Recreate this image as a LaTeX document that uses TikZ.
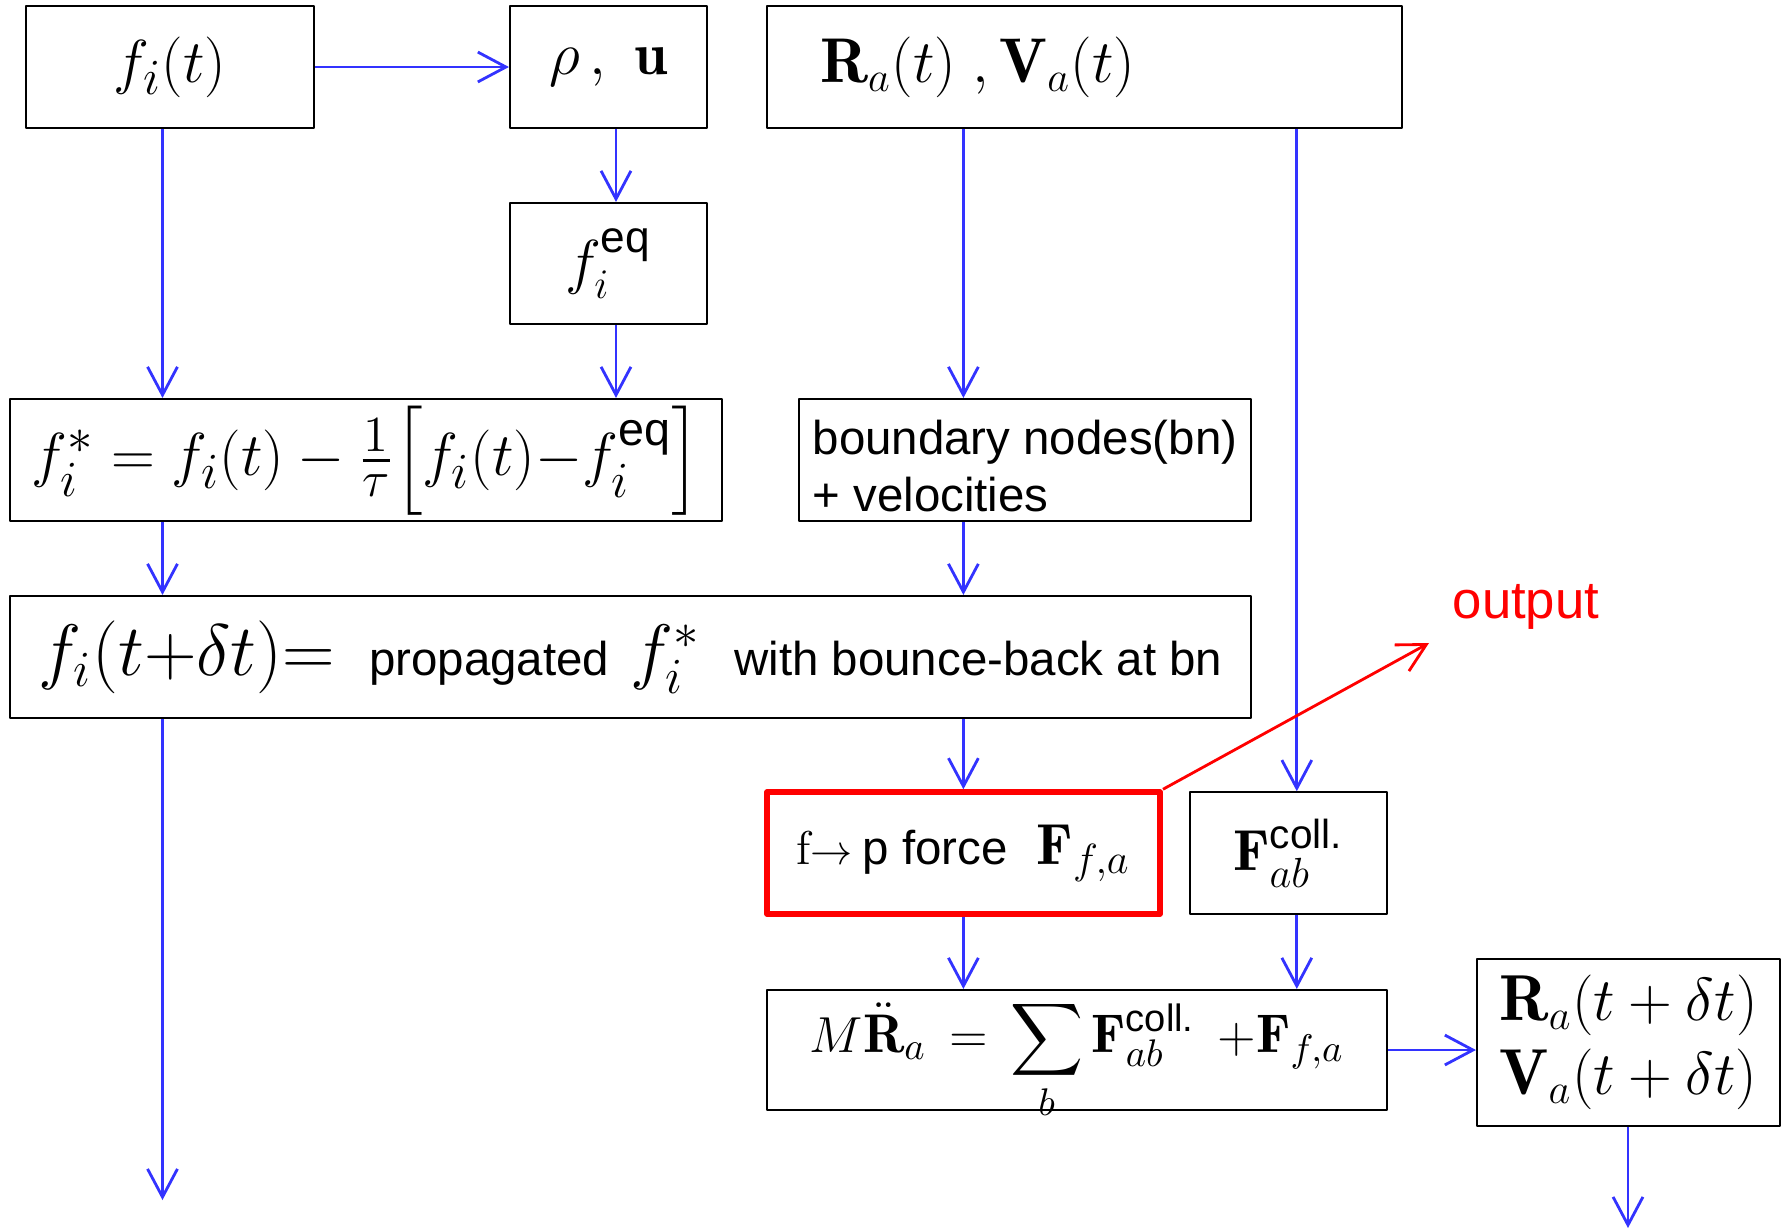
\documentclass[tikz,border=0pt]{standalone}
\usepackage{amsmath}
\usepackage{fontspec}
\setsansfont{Liberation Sans}
\usepackage{tikz}
\usetikzlibrary{arrows.meta,positioning}

\definecolor{flowblue}{RGB}{51,51,255}
\newcommand{\sft}[1]{{\fontsize{13.5}{16.3}\selectfont\sffamily #1}}

\begin{document}
\begin{tikzpicture}[
  font=\fontsize{17}{21}\selectfont,
  line join=round,
  >={Straight Barb[length=8pt,width=8.5pt]},
  sz/.style={font=\fontsize{#1}{21}\selectfont},
  box/.style={
    rectangle,
    draw=black,
    line width=0.6pt,
    minimum height=1.22cm,
    inner sep=2pt,
    align=center
  },
  hotbox/.style={
    box,
    draw=red,
    line width=1.7pt
  },
  arr/.style={
    ->,
    line width=0.8pt,
    draw=flowblue
  },
  outarr/.style={
    arr,
    draw=red
  }
]

\useasboundingbox (0,0) rectangle (17.89,-12.29);

% columns of the vertical connectors
\coordinate (colA) at (1.625,0);
\coordinate (colB) at (6.16,0);
\coordinate (colC) at (9.634,0);
\coordinate (colD) at (12.968,0);
\coordinate (colE) at (16.28,0);

% fluid side
\node[box, sz=19, minimum width=2.88cm] (fi) at (1.70,-0.67) {$f_i(t)$};
\node[box, sz=17, minimum width=1.97cm] (rho) at (6.085,-0.67) {$\rho\,,\ \mathbf{u}$};
\node[box, sz=18, minimum width=1.97cm, minimum height=1.21cm] (feq) at (6.085,-2.635)
  {$f_i^{\text{\sffamily eq}}$};
\node[box, sz=19, minimum width=7.12cm, text height=17pt, text depth=8pt] (fstar) at (3.66,-4.60)
  {$f_i^* = f_i(t) - \tfrac{1}{\tau}\Big[f_i(t){-}f_i^{\text{\sffamily eq}}\Big]$};
\node[box, sz=19.5, minimum width=12.41cm] (prop) at (6.305,-6.57)
  {$f_i(t{+}\delta t){=}$\enspace\sft{propagated} $f_i^*$\enspace\sft{with bounce-back at bn}};

% particle side
\node[box, sz=18, minimum width=6.35cm, text width=5.29cm, inner xsep=0.53cm, align=left] (Rt)
  at (10.845,-0.67) {$\mathbf{R}_a(t)\;,\mathbf{V}_a(t)$};
\node[box, minimum width=4.52cm, align=left, text height=29.4pt, text depth=0pt,
  font=\fontsize{13.5}{16.3}\selectfont\sffamily] (bnd)
  at (10.25,-4.60) {boundary nodes(bn)\\+ velocities};
\node[hotbox, sz=16.5, minimum width=3.93cm, minimum height=1.215cm] (fp) at (9.635,-8.53)
  {\sft{$\mathrm{f}$}${\scriptstyle\rightarrow}$\,\sft{p force}\enspace$\mathbf{F}_{f,a}$};
\node[box, sz=16.5, minimum width=1.97cm, minimum height=1.215cm] (coll) at (12.885,-8.53)
  {$\mathbf{F}_{ab}^{\text{\sffamily coll.}}$};
\node[box, sz=15.5, minimum width=6.20cm, minimum height=1.20cm, inner ysep=0.5pt,
  text height=16.5pt, text depth=15.3pt] (mot) at (10.77,-10.50)
  {$M\ddot{\mathbf{R}}_a \,=\, \displaystyle\sum_b \mathbf{F}_{ab}^{\text{\sffamily coll.}}\;\,{+}\mathbf{F}_{f,a}$};
\node[box, sz=18.5, minimum width=3.03cm, minimum height=1.67cm] (Rdt) at (16.285,-10.425)
  {$\mathbf{R}_a(t+\delta t)$\\$\mathbf{V}_a(t+\delta t)$};

\node[text=red, font=\fontsize{15}{18}\selectfont\sffamily, anchor=base west, inner sep=0pt]
  (outlbl) at (14.52,-6.18) {output};

\coordinate (fout) at (1.625,-12.0);
\coordinate (Rend) at (16.28,-12.28);
\coordinate (outtip) at (14.29,-6.43);

\draw[arr] (fi.east) -- (rho.west);
\draw[arr] (fi.south -| colA) -- (fstar.north -| colA);
\draw[arr] (rho.south -| colB) -- (feq.north -| colB);
\draw[arr] (feq.south -| colB) -- (fstar.north -| colB);
\draw[arr] (Rt.south -| colC) -- (bnd.north -| colC);
\draw[arr] (Rt.south -| colD) -- (coll.north -| colD);
\draw[arr] (fstar.south -| colA) -- (prop.north -| colA);
\draw[arr] (bnd.south -| colC) -- (prop.north -| colC);
\draw[arr] (prop.south -| colA) -- (fout);
\draw[arr] (prop.south -| colC) -- (fp.north -| colC);
\draw[arr] (fp.south -| colC) -- (mot.north -| colC);
\draw[arr] (coll.south -| colD) -- (mot.north -| colD);
\draw[arr] (mot.east) -- (mot.east -| Rdt.west);
\draw[arr] (Rdt.south -| colE) -- (Rend);
\draw[outarr] (fp.north east) -- (outtip);

\end{tikzpicture}
\end{document}
